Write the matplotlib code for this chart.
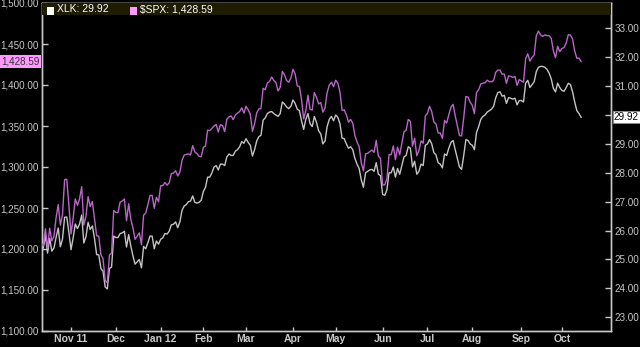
import matplotlib
matplotlib.use("Agg")
import matplotlib.pyplot as plt
from matplotlib.patches import Rectangle
import numpy as np

plt.rcParams['font.family'] = ['Liberation Sans', 'DejaVu Sans']

# Trading days per month, Oct 12 2011 .. Oct 12 2012
month_days = [14, 21, 21, 20, 20, 22, 20, 22, 21, 21, 23, 19, 10]
month_labels = ["Oct", "Nov 11", "Dec", "Jan 12", "Feb", "Mar", "Apr",
                "May", "Jun", "Jul", "Aug", "Sep", "Oct"]

spx = [
    # Oct 2011
    1207.25, 1203.66, 1224.58, 1200.86, 1225.38, 1209.88, 1215.39, 1238.25, 1254.19, 1229.05,
    1242.00, 1284.59, 1285.09, 1253.30,
    # Nov
    1218.28, 1237.90, 1261.15, 1253.23, 1261.12, 1275.92, 1229.10, 1239.70, 1263.85, 1251.78,
    1257.81, 1236.91, 1216.13, 1215.65, 1192.98, 1188.04, 1161.79, 1158.67, 1192.55, 1195.19,
    1246.96,
    # Dec
    1244.58, 1244.28, 1257.08, 1258.47, 1261.01, 1234.35, 1255.19, 1236.47, 1225.73, 1211.82,
    1215.75, 1219.66, 1205.35, 1241.30, 1243.72, 1254.00, 1265.33, 1265.43, 1249.64, 1263.02,
    1257.60,
    # Jan 2012
    1277.06, 1277.30, 1281.06, 1277.81, 1280.70, 1292.08, 1292.48, 1295.50, 1289.09, 1293.67,
    1308.04, 1314.50, 1315.38, 1316.00, 1314.65, 1326.06, 1318.43, 1316.33, 1313.01, 1312.41,
    # Feb
    1324.09, 1325.54, 1344.90, 1344.33, 1347.05, 1349.96, 1351.95, 1342.64, 1351.77, 1350.50,
    1343.23, 1358.04, 1361.23, 1362.21, 1357.66, 1363.46, 1365.74, 1367.59, 1372.18, 1365.68,
    # Mar
    1374.09, 1369.63, 1364.33, 1343.36, 1352.63, 1365.91, 1370.87, 1371.09, 1395.95, 1394.28,
    1402.60, 1404.17, 1409.75, 1405.52, 1402.89, 1392.78, 1397.11, 1416.51, 1412.52, 1405.54,
    1403.28, 1408.47,
    # Apr
    1419.04, 1413.38, 1398.96, 1398.08, 1382.20, 1358.59, 1368.71, 1387.57, 1370.26, 1369.57,
    1390.78, 1385.14, 1376.92, 1378.53, 1366.94, 1371.97, 1390.69, 1399.98, 1403.36, 1397.91,
    # May
    1405.82, 1402.31, 1391.57, 1369.10, 1369.58, 1363.72, 1354.58, 1357.99, 1353.39, 1338.35,
    1330.66, 1324.80, 1304.86, 1295.22, 1315.99, 1316.63, 1318.86, 1320.68, 1317.82, 1332.42,
    1313.32, 1310.33,
    # Jun
    1278.04, 1278.18, 1285.50, 1315.13, 1314.99, 1325.66, 1308.93, 1324.18, 1314.88, 1329.10,
    1342.84, 1344.78, 1357.98, 1355.69, 1325.51, 1335.02, 1313.72, 1319.99, 1331.85, 1329.04,
    1362.16,
    # Jul
    1365.51, 1374.02, 1367.58, 1354.68, 1352.46, 1341.47, 1341.45, 1334.76, 1356.78, 1353.64,
    1363.67, 1372.78, 1376.51, 1362.66, 1350.52, 1338.31, 1337.89, 1360.02, 1385.97, 1385.30,
    1379.32,
    # Aug
    1375.14, 1365.00, 1390.99, 1394.23, 1401.35, 1402.22, 1402.80, 1405.87, 1404.11, 1403.93,
    1405.53, 1415.51, 1418.16, 1418.13, 1413.17, 1413.49, 1402.08, 1411.13, 1410.44, 1409.30,
    1410.49, 1399.48, 1406.58,
    # Sep
    1404.94, 1403.44, 1432.12, 1437.92, 1429.08, 1433.56, 1436.56, 1459.99, 1465.77, 1461.19,
    1459.32, 1461.05, 1460.26, 1460.15, 1456.89, 1441.59, 1433.32, 1447.15, 1440.67,
    # Oct
    1444.49, 1445.75, 1450.99, 1461.40, 1460.93, 1455.88, 1441.48, 1432.56, 1432.84, 1428.59,
]

xlk = [
    # Oct 2011
    25.53, 25.40, 25.84, 25.22, 25.73, 25.29, 25.40, 25.76, 26.09, 25.44,
    25.71, 26.46, 26.47, 25.94,
    # Nov
    25.34, 25.75, 26.23, 26.07, 26.23, 26.54, 25.57, 25.79, 26.29, 26.04,
    26.16, 25.73, 25.17, 25.16, 24.69, 24.59, 24.05, 23.98, 24.69, 24.74,
    25.81,
    # Dec
    25.76, 25.76, 25.90, 25.92, 25.98, 25.43, 25.86, 25.47, 25.13, 24.84,
    24.92, 25.00, 24.71, 25.45, 25.37, 25.58, 25.81, 25.81, 25.37, 25.64,
    25.53,
    # Jan 2012
    25.70, 25.75, 25.90, 25.88, 25.98, 26.20, 26.22, 26.30, 26.10, 26.30,
    26.70, 26.85, 26.90, 27.00, 27.02, 27.20, 26.98, 26.95, 26.98, 27.05,
    # Feb
    27.35, 27.50, 27.85, 27.85, 28.00, 28.20, 28.25, 28.10, 28.30, 28.30,
    28.25, 28.55, 28.65, 28.60, 28.60, 28.75, 28.80, 28.90, 29.08, 29.02,
    # Mar
    29.18, 29.05, 28.95, 28.58, 28.80, 29.10, 29.25, 29.30, 29.82, 29.90,
    30.05, 30.10, 30.12, 30.05, 30.00, 29.95, 30.05, 30.45, 30.38, 30.28,
    30.22, 30.30,
    # Apr
    30.52, 30.40, 30.20, 30.15, 29.80, 29.50, 29.85, 30.05, 29.70, 29.60,
    29.95, 29.75, 29.45, 29.35, 29.00, 29.10, 29.60, 29.85, 29.95, 29.80,
    # May
    30.00, 29.92, 29.70, 29.20, 29.18, 29.00, 28.85, 28.90, 28.80, 28.50,
    28.30, 28.15, 27.75, 27.50, 28.00, 28.05, 28.10, 28.12, 28.05, 28.35,
    27.95, 27.90,
    # Jun
    27.25, 27.22, 27.40, 28.00, 28.00, 28.20, 27.85, 28.15, 27.95, 28.25,
    28.55, 28.60, 28.90, 28.85, 28.20, 28.40, 27.95, 28.05, 28.30, 28.25,
    28.95,
    # Jul
    29.00, 29.15, 29.00, 28.70, 28.62, 28.35, 28.30, 28.17, 28.65, 28.60,
    28.85, 29.05, 29.12, 28.80, 28.50, 28.20, 28.12, 28.60, 29.15, 29.12,
    29.00,
    # Aug
    28.95, 28.80, 29.40, 29.60, 29.85, 29.95, 30.00, 30.10, 30.15, 30.20,
    30.30, 30.60, 30.78, 30.80, 30.65, 30.68, 30.40, 30.60, 30.58, 30.55,
    30.58, 30.35, 30.50,
    # Sep
    30.50, 30.45, 31.10, 31.20, 30.95, 31.05, 31.15, 31.50, 31.65, 31.68,
    31.68, 31.65, 31.58, 31.45, 31.25, 30.92, 30.80, 31.10, 30.95,
    # Oct
    30.85, 30.82, 30.95, 31.10, 31.05, 30.80, 30.45, 30.15, 30.05, 29.92,
]

left_ticks = [1100, 1150, 1200, 1250, 1300, 1350, 1400, 1450, 1500]
right_ticks = [23, 24, 25, 26, 27, 28, 29, 30, 31, 32, 33]

BG = "#000000"
AXC = "#c8c8c8"
TXT = "#e8e8e8"
SPX_C = "#b866c8"
XLK_C = "#c4c4c4"
PINK = "#ff99ff"
FS = 7.1

fig = plt.figure(figsize=(6.4, 3.47), dpi=100, facecolor=BG)
ax = fig.add_axes([42/640, 16/347, (611-42)/640, (344-16)/347])
ax.set_facecolor(BG)
ax2 = ax.twinx()

x = np.arange(len(spx))
ax2.plot(x, xlk, color=XLK_C, lw=1.0, zorder=2)
ax.plot(x, spx, color=SPX_C, lw=1.0, zorder=3)
ax.set_zorder(ax2.get_zorder() + 1)
ax.patch.set_visible(False)
ax2.patch.set_visible(True)
ax2.patch.set_facecolor(BG)

ax.set_xlim(0.4, 267)
ax.set_ylim(1100, 1500)
ax2.set_ylim(22.526, 33.875)

starts = np.cumsum([0] + month_days[:-1])
ax.set_xticks(starts[1:])
ax.set_xticklabels(month_labels[1:], fontweight="bold", fontsize=7.5, color=TXT)

ax.set_yticks(left_ticks)
ax.set_yticklabels([f"{v:,.2f}" for v in left_ticks], fontsize=FS, color=TXT)
ax2.set_yticks(right_ticks)
ax2.set_yticklabels([f"{v:.2f}" for v in right_ticks], fontsize=FS, color=TXT)

for a in (ax, ax2):
    for s in a.spines.values():
        s.set_color(AXC)
        s.set_linewidth(1.0)
    a.tick_params(colors=AXC, direction="in", length=4, width=1, pad=2.5)
ax.tick_params(axis="x", length=3, pad=2)

# legend strip
ax.add_patch(Rectangle((0, 1 - 12/328), 1, 12/328, transform=ax.transAxes,
                       facecolor="#1e1c02", edgecolor="none", zorder=5, clip_on=False))
fig.patches.append(Rectangle((46.5/640, 1 - 14.5/347), 7/640, 7/347,
                             transform=fig.transFigure, facecolor="white", edgecolor="none"))
fig.text(57/640, 1 - 9/347, "XLK: 29.92", color="white", fontsize=7.5, va="center", ha="left")
fig.patches.append(Rectangle((130/640, 1 - 14.5/347), 7/640, 7/347,
                             transform=fig.transFigure, facecolor=PINK, edgecolor="none"))
fig.text(140/640, 1 - 9/347, "$SPX: 1,428.59", color="white", fontsize=7.5, va="center", ha="left")

# value tags
ax.text(-0.004, spx[-1], f"{spx[-1]:,.2f}", transform=ax.get_yaxis_transform(),
        ha="right", va="center", fontsize=FS, color="#333333",
        bbox=dict(boxstyle="square,pad=0.12", facecolor=PINK, edgecolor="none"), clip_on=False)
ax2.text(1.005, xlk[-1], f"{xlk[-1]:.2f}", transform=ax2.get_yaxis_transform(),
         ha="left", va="center", fontsize=FS, color="#000000",
         bbox=dict(boxstyle="square,pad=0.12", facecolor="white", edgecolor="#888888", lw=0.6),
         clip_on=False, zorder=10)

fig.savefig("out.png", dpi=100, facecolor=BG)
